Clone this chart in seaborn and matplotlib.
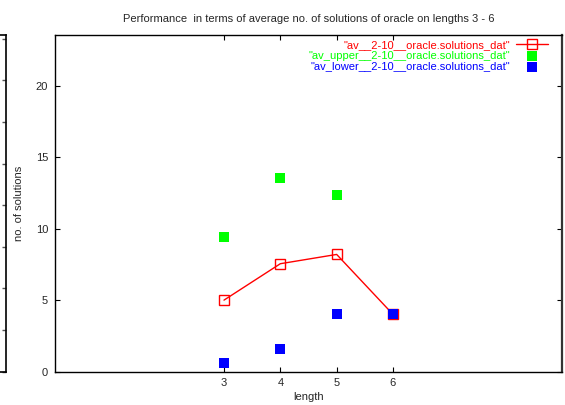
import matplotlib
matplotlib.use("Agg")
import matplotlib.pyplot as plt
import seaborn as sns
import pandas as pd

# average number of solutions per length, with upper / lower bounds
lengths = [3, 4, 5, 6]
av_values = [5.0, 7.55, 8.2, 4.0]
upper_values = [9.4, 13.55, 12.35, 4.0]
lower_values = [0.6, 1.6, 4.0, 4.0]

labels = [
    '"av__2-10__oracle.solutions_dat"',
    '"av_upper__2-10__oracle.solutions_dat"',
    '"av_lower__2-10__oracle.solutions_dat"',
]
colors = ["#ff0000", "#00ff00", "#0000ff"]

x_ticks = [3, 4, 5, 6]
y_ticks = [0, 5, 10, 15, 20]

df = pd.DataFrame({
    "length": lengths,
    "av": av_values,
    "upper": upper_values,
    "lower": lower_values,
})

sns.set_style("ticks")
plt.rcParams["font.family"] = ["Liberation Sans", "DejaVu Sans"]
plt.rcParams["font.size"] = 8

fig = plt.figure(figsize=(5.65, 4.05), dpi=100)
W, H = 565, 405

# right edge of a neighbouring frame along the left border
ax_side = fig.add_axes([-0.5, (H - 371.5) / H, 0.5 + 6 / W, 336.5 / H])
ax_side.set_xlim(0, 1)
ax_side.set_ylim(0, 8.09)
ax_side.set_yticks(range(9))
ax_side.set_xticks([])
ax_side.yaxis.tick_right()
ax_side.tick_params(axis="y", direction="in", length=3, width=1, color="#555555",
                    labelright=False)
ax_side.spines["left"].set_visible(False)
for s in ("top", "bottom", "right"):
    ax_side.spines[s].set_color("black")
    ax_side.spines[s].set_linewidth(1.2)
ax_side.patch.set_alpha(0)

ax = fig.add_axes([55 / W, (H - 371.5) / H, 507 / W, 336.5 / H])

sns.lineplot(data=df, x="length", y="av", ax=ax, color=colors[0], linewidth=1.0,
             marker="s", markersize=7.5, markerfacecolor="none",
             markeredgecolor=colors[0], markeredgewidth=1.0, label=labels[0])
sns.scatterplot(data=df, x="length", y="upper", ax=ax, color=colors[1], marker="s",
                s=62, linewidth=0, label=labels[1], zorder=3)
sns.scatterplot(data=df, x="length", y="lower", ax=ax, color=colors[2], marker="s",
                s=62, linewidth=0, label=labels[2], zorder=4)

ax.set_xlim(0, 9)
ax.set_ylim(0, 23.57)
ax.set_xticks(x_ticks)
ax.set_yticks(y_ticks)
ax.tick_params(direction="in", length=3.6, width=0.8, top=True, right=True,
               labelsize=8, pad=5, color="black")

for s in ("left", "top", "bottom"):
    ax.spines[s].set_color("black")
    ax.spines[s].set_linewidth(1.0)
ax.spines["right"].set_color("#333333")
ax.spines["right"].set_linewidth(1.6)

ax.set_xlabel("length", fontsize=8)
ax.xaxis.set_label_coords(0.5, -0.061)
ax.set_ylabel("no. of solutions", fontsize=8)
ax.yaxis.set_label_coords(-0.062, 0.5)
ax.set_title("Performance  in terms of average no. of solutions of oracle on lengths 3 - 6",
             fontsize=8, pad=9.6)

leg = ax.legend(loc="upper right", bbox_to_anchor=(1 - 14 / 507, 1 - 5 / 336.5),
                frameon=False, markerfirst=False, alignment="right",
                fontsize=8, handlelength=2.9, handletextpad=0.5,
                labelspacing=0.07, borderaxespad=0, borderpad=0,
                labelcolor=colors)

fig.savefig("out.png", dpi=100)
